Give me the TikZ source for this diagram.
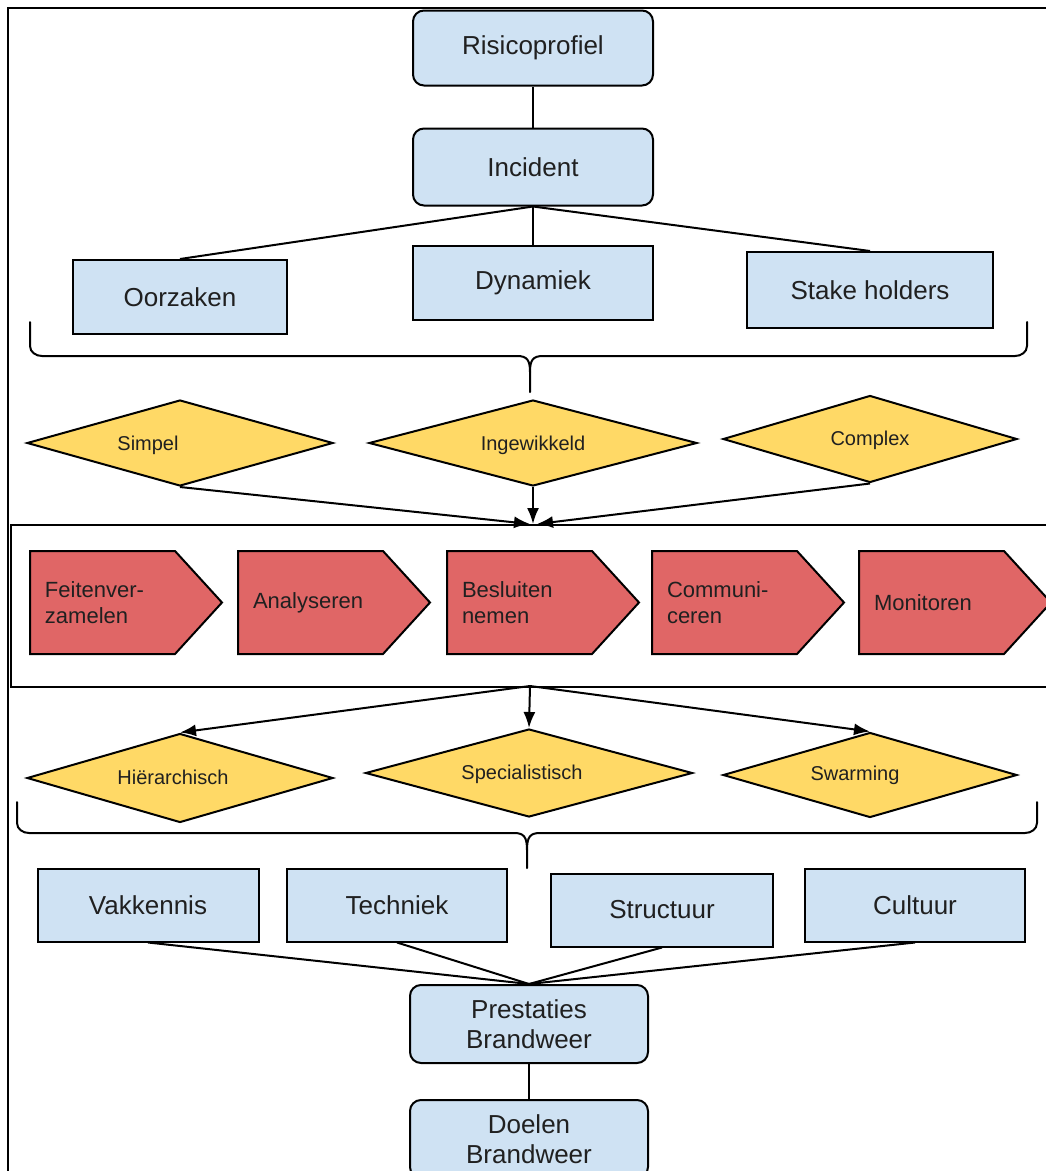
\documentclass[tikz,border=0pt]{standalone}
\usepackage{fontspec}
\setmainfont{Liberation Sans}
\usetikzlibrary{shapes.geometric,arrows.meta,calc}
\definecolor{boxblue}{HTML}{CFE2F3}
\definecolor{diayellow}{HTML}{FFD966}
\definecolor{chevred}{HTML}{E06666}
\definecolor{inktext}{HTML}{202020}

\begin{document}
\begin{tikzpicture}[x=1pt,y=-1pt,
  line width=2pt,
  every node/.style={text=inktext},
  bigfont/.style={font=\fontsize{26}{30}\selectfont},
  blockbox/.style={draw, fill=boxblue, bigfont, inner sep=0pt, align=center},
  roundbox/.style={blockbox, rounded corners=11pt},
  decision/.style={draw, fill=diayellow, diamond, inner sep=0pt, line join=miter},
  dtext/.style={font=\fontsize{20}{24}\selectfont, inner sep=0pt},
  chev/.style={draw, fill=chevred, line join=miter},
  chevtext/.style={font=\fontsize{22}{26}\selectfont, align=left, inner sep=0pt, anchor=west},
  link/.style={draw, line width=2pt},
  arrow/.style={link, -{Latex[length=16pt,width=12pt]}},
  brace/.style={draw, line width=2pt, line cap=round}
]
\useasboundingbox (0,0) rectangle (1046,1171);
\clip (0,0) rectangle (1046,1171);
\fill[white] (0,0) rectangle (1046,1171);

% outer frame
\draw (1100,8) -- (8,8) -- (8,1200);

% top part
\node[roundbox, minimum width=240pt, minimum height=75pt] (risico) at (533,48) {Risicoprofiel};
\node[roundbox, minimum width=240pt, minimum height=77pt] (incident) at (533,167) {Incident};
\node[blockbox, minimum width=214pt, minimum height=74pt] (oorzaken) at (180,297) {Oorzaken};
\node[blockbox, minimum width=240pt, minimum height=74pt] (dynamiek) at (533,283) {Dynamiek};
\node[blockbox, minimum width=246pt, minimum height=76pt] (stake) at (870,290) {Stake holders};

\draw[link] (risico) -- (incident);
\draw[link] (incident.south) -- (oorzaken.north);
\draw[link] (incident.south) -- (dynamiek.north);
\draw[link] (incident.south) -- (stake.north);

% first brace
\draw[brace] (30,322) -- (30,346) to[out=-90,in=180] (42,356) -- (517,356)
  .. controls (527,356) and (530,360) .. (530,372) -- (530,392);
\draw[brace] (1027,322) -- (1027,346) to[out=-90,in=0] (1015,356) -- (543,356)
  .. controls (533,356) and (530,360) .. (530,372);

% complexity diamonds
\node[decision, minimum width=306pt, minimum height=86pt] (simpel) at (180,443) {};
\node[decision, minimum width=328pt, minimum height=86pt] (ingewikkeld) at (533,443) {};
\node[decision, minimum width=294pt, minimum height=87pt] (complex) at (870,439) {};
\node[dtext] (simpel-t) at (148,445) {Simpel};
\node[dtext] (ingewikkeld-t) at (533,445) {Ingewikkeld};
\node[dtext] (complex-t) at (870,440) {Complex};

% process frame
\node[draw, minimum width=1080pt, minimum height=162pt, anchor=north west, inner sep=0pt] (process) at (10,524) {};
\coordinate (inL) at (530,524);
\coordinate (inM) at (533,524);
\coordinate (inR) at (537,524);
\coordinate (outP) at (530,686);

\draw[arrow] (simpel.south) -- (inL);
\draw[arrow] (ingewikkeld.south) -- (inM);
\draw[arrow] (complex.south) -- (inR);

% process steps
\foreach \x/\lbl/\nm in {30/{Feitenver-\\zamelen}/feiten, 238/{Analyseren}/analyse, 447/{Besluiten\\nemen}/besluit, 652/{Communi-\\ceren}/commun, 859/{Monitoren}/monitor} {
  \draw[chev] (\x,551) -- ++(145,0) -- ++(47,51.5) -- ++(-47,51.5) -- ++(-145,0) -- cycle;
  \node[chevtext] (\nm) at (\x+14,603) {\lbl};
}

% leadership diamonds
\node[decision, minimum width=306pt, minimum height=89pt] (hier) at (180,778) {};
\node[decision, minimum width=327pt, minimum height=88pt] (spec) at (529,773) {};
\node[decision, minimum width=294pt, minimum height=85pt] (swarm) at (870,775) {};
\node[dtext] (hier-t) at (173,777) {Hiërarchisch};
\node[dtext] (spec-t) at (522,774) {Specialistisch};
\node[dtext] (swarm-t) at (855,775) {Swarming};

\draw[arrow] (outP) -- (hier.north);
\draw[arrow] (outP) -- (spec.north);
\draw[arrow] (outP) -- (swarm.north);

% second brace
\draw[brace] (17,802) -- (17,823) to[out=-90,in=180] (29,833) -- (514,833)
  .. controls (524,833) and (527,837) .. (527,850) -- (527,868);
\draw[brace] (1037,802) -- (1037,823) to[out=-90,in=0] (1025,833) -- (540,833)
  .. controls (530,833) and (527,837) .. (527,850);

% capability boxes
\node[blockbox, minimum width=221pt, minimum height=73pt] (vak) at (148,905) {Vakkennis};
\node[blockbox, minimum width=220pt, minimum height=73pt] (tech) at (397,905) {Techniek};
\node[blockbox, minimum width=222pt, minimum height=73pt] (struct) at (662,910) {Structuur};
\node[blockbox, minimum width=220pt, minimum height=73pt] (cult) at (915,905) {Cultuur};

% results
\node[roundbox, minimum width=238pt, minimum height=78pt] (prest) at (529,1024) {Prestaties\\Brandweer};
\node[roundbox, minimum width=238pt, minimum height=78pt] (doel) at (529,1139) {Doelen\\Brandweer};

\draw[link] (vak.south) -- (prest.north);
\draw[link] (tech.south) -- (prest.north);
\draw[link] (struct.south) -- (prest.north);
\draw[link] (cult.south) -- (prest.north);
\draw[link] (prest) -- (doel);
\end{tikzpicture}
\end{document}
